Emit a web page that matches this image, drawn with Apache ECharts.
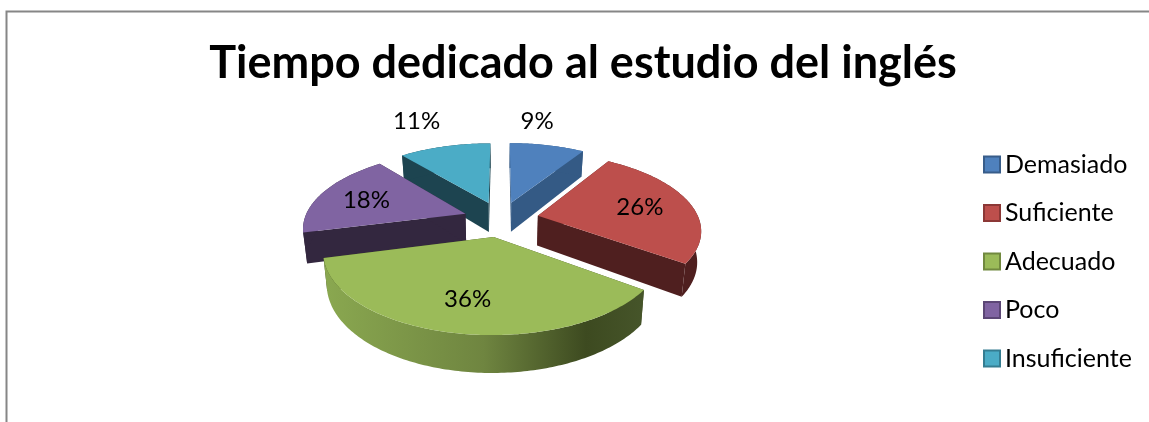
<!DOCTYPE html>
<html>
<head>
<meta charset="utf-8">
<script src="https://cdn.jsdelivr.net/npm/echarts@6/dist/echarts.min.js"></script>
<style>
  html, body { margin: 0; padding: 0; background: #fff; }
  #chart { width: 1149px; height: 422px; }
</style>
</head>
<body>
<div id="chart"></div>
<script>
var titleText = "Tiempo dedicado al estudio del inglés";
var categories = ["Demasiado", "Suficiente", "Adecuado", "Poco", "Insuficiente"];
var percents = [9, 26, 36, 18, 11];

// Office 2007 palette: top face, side face, legend border
var topColors = ["#4f81bd", "#bd4f4c", "#9bbb59", "#8064a2", "#4bacc6"];
var sideColors = ["#345a85", "#4f1f1f", "#3d4a20", "#33273f", "#1d4450"];
var edgeColors = ["#385d8a", "#8c3836", "#71893f", "#5c4776", "#357d91"];
var paintOrder = [4, 0, 3, 1, 2]; // back to front
var labelOffsets = [[26, -81], [102, -8], [-26, 62], [-99, -13], [-72, -82]];

var font = 'Lato, Carlito, Calibri, sans-serif';

// fake 3D: ground plane seen in perspective
var CX = 501, CY = 219, R = 161, BR = 74.7, K = 0.169, DEPTH = 30, EXPLODE = 0.235;

function project(X, Y, down) {
  var f = 1 / (1 - K * Y);
  var x = CX + R * X * f, y = CY + BR * Y * f;
  if (down) { x = CX + (x - CX) * 0.98; y += DEPTH * f; }
  return [x, y];
}

var total = percents.reduce(function (a, b) { return a + b; }, 0);
var acc = 0;
var slices = percents.map(function (v) {
  var s = { start: acc / total * 2 * Math.PI, end: (acc + v) / total * 2 * Math.PI };
  acc += v;
  return s;
});

function renderSlice(i) {
  var s = slices[i];
  var mid = (s.start + s.end) / 2;
  var ex = EXPLODE * Math.sin(mid), ey = -EXPLODE * Math.cos(mid);
  var steps = Math.max(8, Math.round((s.end - s.start) * 60));
  var arcTop = [], arcBot = [];
  for (var k = 0; k <= steps; k++) {
    var t = s.start + (s.end - s.start) * k / steps;
    arcTop.push(project(ex + Math.sin(t), ey - Math.cos(t), false));
    arcBot.push(project(ex + Math.sin(t), ey - Math.cos(t), true));
  }
  var apex = project(ex, ey, false), apexBot = project(ex, ey, true);
  var side = sideColors[i];
  var rimFill = i === 2
    ? new echarts.graphic.LinearGradient(0, 0, 1, 0, [
        { offset: 0, color: "#8aa850" },
        { offset: 0.5, color: "#6f8540" },
        { offset: 0.82, color: "#3d4a20" },
        { offset: 1, color: "#46552a" }
      ])
    : side;
  function poly(points, fill) {
    return { type: "polygon", shape: { points: points }, style: { fill: fill } };
  }
  return {
    type: "group",
    children: [
      poly([apex, arcTop[0], arcBot[0], apexBot], side),
      poly([apex, arcTop[steps], arcBot[steps], apexBot], side),
      poly(arcTop.concat(arcBot.slice().reverse()), rimFill),
      poly([apex].concat(arcTop), topColors[i]),
      {
        type: "text",
        style: {
          text: percents[i] + "%",
          x: apex[0] + labelOffsets[i][0],
          y: apex[1] + labelOffsets[i][1],
          fill: "#000",
          font: "24px " + font,
          align: "center",
          verticalAlign: "middle"
        }
      }
    ]
  };
}

var chart = echarts.init(document.getElementById("chart"), null, { renderer: "canvas" });
chart.setOption({
  animation: false,
  backgroundColor: "#fff",
  title: {
    text: titleText,
    left: 578,
    top: 36,
    textAlign: "center",
    textStyle: { fontFamily: font, fontWeight: "bold", fontSize: 45, color: "#000" }
  },
  legend: {
    orient: "vertical",
    left: 978,
    top: 147,
    icon: "rect",
    itemWidth: 16,
    itemHeight: 16,
    itemGap: 23.5,
    selectedMode: false,
    data: categories,
    textStyle: { fontFamily: font, fontSize: 25, color: "#000" }
  },
  graphic: [
    { type: "polyline", silent: true, shape: { points: [[6.5, 422], [6.5, 11.5], [1149, 11.5]] },
      style: { stroke: "#868686", lineWidth: 2, fill: null } }
  ],
  series: categories.map(function (name, i) {
    return {
      type: "custom",
      name: name,
      coordinateSystem: "none",
      silent: true,
      z: 2 + paintOrder.indexOf(i),
      itemStyle: { color: topColors[i], borderColor: edgeColors[i], borderWidth: 2 },
      data: [percents[i]],
      renderItem: function () { return renderSlice(i); }
    };
  })
});
</script>
</body>
</html>
